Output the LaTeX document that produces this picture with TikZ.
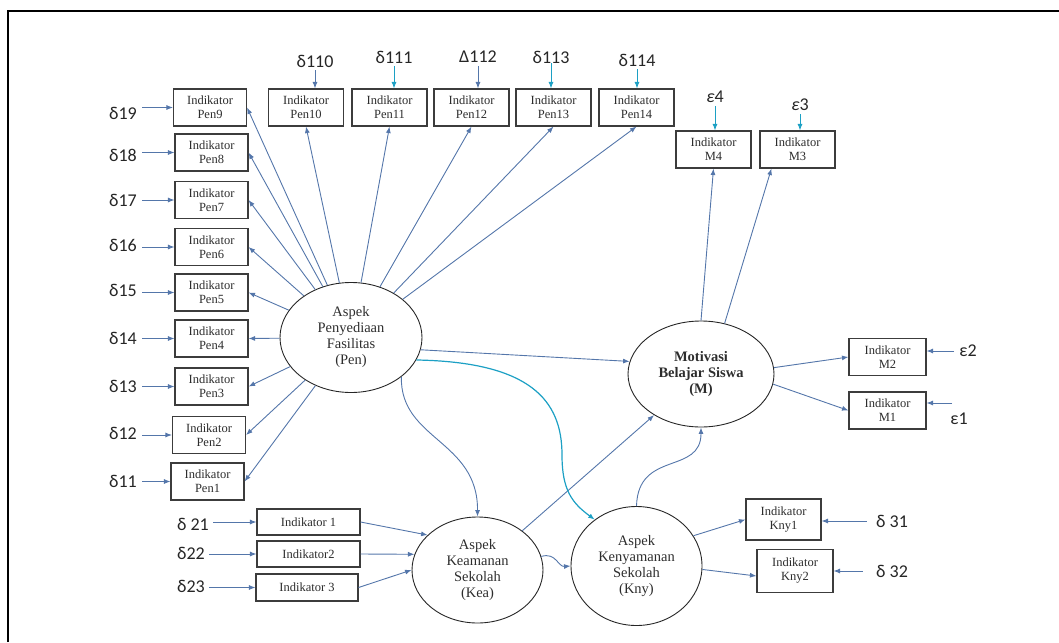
\documentclass[tikz,border=0pt]{standalone}
\usepackage{fontspec}
\setmainfont{Liberation Serif}
\newfontfamily\calib{Carlito}
\usepackage{tikz}
\usetikzlibrary{arrows.meta}
\usetikzlibrary{shapes.geometric}
\definecolor{lineblue}{RGB}{84,118,170}
\definecolor{cyanline}{RGB}{28,160,196}
\definecolor{boxgray}{RGB}{60,60,60}
\definecolor{txtgray}{RGB}{45,45,45}
\tikzset{
  box/.style={draw=boxgray,line width=1.1pt,fill=white,align=center,inner sep=0pt,
    text=txtgray,font=\fontsize{12.5}{14}\selectfont},
  lat/.style={ellipse,draw=black!85,line width=0.9pt,align=center,inner sep=0pt,
    text=txtgray,font=\fontsize{14.5}{16}\selectfont},
  err/.style={inner sep=0pt,text=black!85,font=\calib\fontsize{18}{20}\selectfont},
  arr/.style={->,>={Latex[length=6.5pt,width=5pt]},draw=lineblue,line width=0.9pt},
}

\begin{document}
\begin{tikzpicture}[x=1pt,y=-1pt]
	\useasboundingbox (0,0) rectangle (1059,642);
	\draw[line width=2pt] (8,642) -- (8,11) -- (1059,11);
	
	% latent
	
	\node[lat,minimum width=142pt,minimum height=110pt] (Pen) at (351,337.5) {Aspek\\Penyediaan\\Fasilitas\\(Pen)};
	\node[lat,minimum width=146pt,minimum height=106pt,font=\bfseries\fontsize{14.5}{16}\selectfont] (Mot) at (701,374) {Motivasi\\Belajar Siswa\\(M)};
	\node[lat,minimum width=131pt,minimum height=106pt] (Kea) at (477.5,570) {Aspek\\Keamanan\\Sekolah\\(Kea)};
	\node[lat,minimum width=131pt,minimum height=119pt] (Kny) at (636.5,566) {Aspek\\Kenyamanan\\Sekolah\\(Kny)};
	
	% Pen
	
	\foreach \i/\x/\y/\dy in {9/210/107.5/6,8/211.5/152.5/3,7/211.5/200/0,6/211.5/247/-2,5/211.5/292.5/-2,4/211.5/338.5/0,3/211.5/386.5/0,2/209/435/-2,1/207.5/481.5/0} {
		\node[box,minimum width=73pt,minimum height=37pt] (P\i) at (\x,\y) {Indikator\\Pen\i};
		\node[err,anchor=east] (D\i) at (137,\y+\dy) {δ1\i};
		\draw[arr] ([xshift=5pt]D\i.east |- P\i.west) -- (P\i.west);
		\draw[arr] (Pen) -- (P\i.east);
	}
	\foreach \i/\x in {10/306,11/389.5,12/471.5,13/553.5,14/636.5} {
		\node[box,minimum width=75pt,minimum height=37pt] (P\i) at (\x,107.5) {Indikator\\Pen\i};
		\draw[arr] (Pen) -- (P\i.south);
	}
	\node[err] (D10) at (315,61) {δ110};
	\node[err] (D11) at (394,57) {δ111};
	\node[err] (D12) at (478,57) {Δ112};
	\node[err] (D13) at (551,57) {δ113};
	\node[err] (D14) at (637,60) {δ114};
	\draw[arr] ([yshift=-3pt]D10.south) -- (D10.south |- P10.north);
	\draw[arr,draw=cyanline] ([yshift=-3pt]D11.south) -- (D11.south |- P11.north);
	\draw[arr] ([yshift=-3pt]D12.south) -- (D12.south |- P12.north);
	\draw[arr,draw=cyanline] (D13) -- (D13 |- P13.north);
	\draw[arr,draw=cyanline] ([yshift=-3pt]D14.south) -- (D14.south |- P14.north);
	
	% M
	
	\node[box,minimum width=75pt,minimum height=37pt] (Q4) at (713.5,149.5) {Indikator\\M4};
	\node[box,minimum width=75pt,minimum height=37pt] (Q3) at (797.5,149.5) {Indikator\\M3};
	\node[box,minimum width=77pt,minimum height=37pt] (Q2) at (887.5,357) {Indikator\\M2};
	\node[box,minimum width=77pt,minimum height=37pt] (Q1) at (887.5,410.5) {Indikator\\M1};
	\node[err] (E4) at (715,97) {{\itshape ε}4};
	\node[err] (E3) at (800,105) {{\itshape ε}3};
	\node[err] (E2) at (968,351) {ε2};
	\node[err] (E1) at (959,419) {ε1};
	\coordinate (e1) at (952,403);
	\draw[arr,draw=cyanline] ([yshift=-3pt]E4.south) -- (E4.south |- Q4.north);
	\draw[arr,draw=cyanline] ([yshift=-3pt]E3.south) -- (E3.south |- Q3.north);
	\draw[arr] ([xshift=-5pt]E2.west) -- (E2.west -| Q2.east);
	\draw[arr] (e1) -- (e1 -| Q1.east);
	\draw[arr] (Mot.north) -- (Q4.south);
	\draw[arr] (Mot.65) -- ([xshift=12pt]Q3.south west);
	\draw[arr] (Mot.5) -- (Q2.west);
	\draw[arr] (Mot.-8) -- (Q1.west);
	
	% Kea
	
	\node[box,minimum width=103pt,minimum height=26pt] (A1) at (308.5,522) {Indikator 1};
	\node[box,minimum width=103pt,minimum height=26pt] (A2) at (308.5,554) {Indikator2};
	\node[box,minimum width=102pt,minimum height=27pt] (A3) at (307,587.5) {Indikator 3};
	\node[err] (F1) at (193,524) {δ 21};
	\node[err] (F2) at (191,553) {δ22};
	\node[err] (F3) at (191,586) {δ23};
	\foreach \i in {1,2,3} {
		\draw[arr] ([xshift=4pt]F\i.east |- A\i.west) -- (A\i.west);
	}
	\draw[arr] (A1.east) -- (Kea.145);
	\draw[arr] (A2.east) -- (Kea.166);
	\draw[arr] (A3.east) -- (Kea.west);
	
	% Kny
	
	\node[box,minimum width=75pt,minimum height=41pt] (K1) at (783.5,519.5) {Indikator\\Kny1};
	\node[box,minimum width=76pt,minimum height=43pt] (K2) at (795,571) {Indikator\\Kny2};
	\node[err] (G1) at (892,521) {δ 31};
	\node[err] (G2) at (892,571) {δ 32};
	\draw[arr] ([xshift=-9pt]G1.west) -- (G1.west -| K1.east);
	\draw[arr] ([xshift=-13pt]G2.west) -- (G2.west -| K2.east);
	\draw[arr] (Kny.28) -- (K1.west);
	\draw[arr] (Kny.-3) -- ([yshift=-5pt]K2.west);
	
	% paths
	
	\draw[arr] (Pen.-10) -- (Mot.170);
	\draw[arr] (Kea) -- (Mot);
	\draw[arr] (Pen.-38) .. controls (400,440) and (478,440) .. (Kea.north);
	\draw[arr,draw=cyanline,line width=1.2pt] (Pen.-19) .. controls (530,362) and (562,400) .. (562,455) .. controls (562,490) and (572,503) .. (Kny.132);
	\draw[arr] (Kea.12) .. controls (556,552) and (558,567) .. (Kny.west);
	\draw[arr] (Kny.north) .. controls (638,450) and (701,475) .. (Mot.south);
	
\end{tikzpicture}
\end{document}
